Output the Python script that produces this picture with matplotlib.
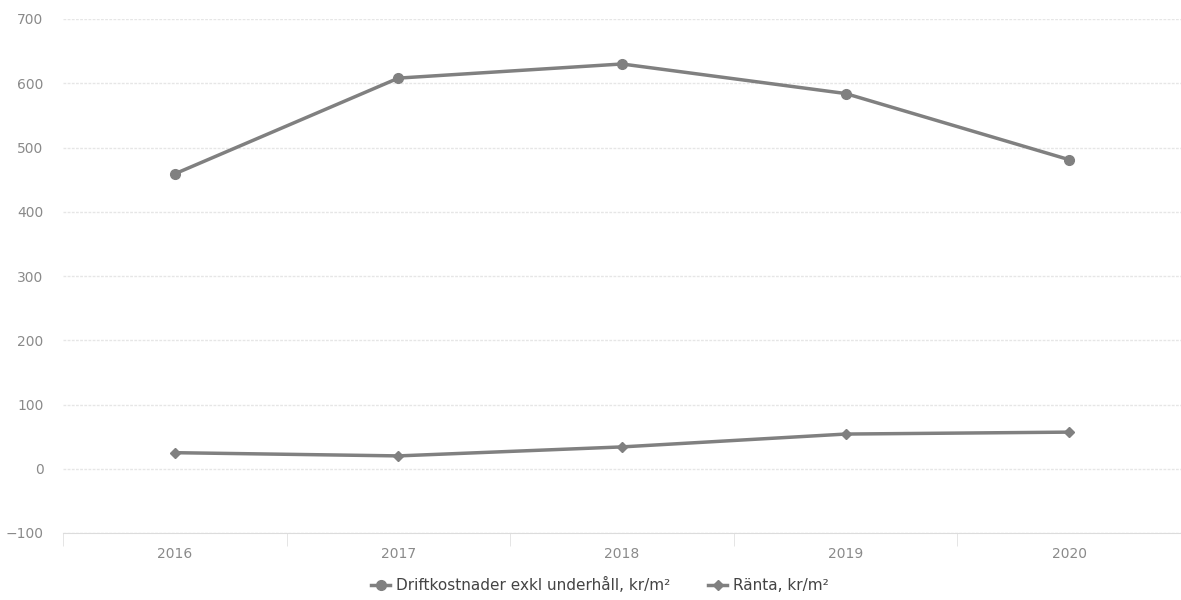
import matplotlib
matplotlib.use("Agg")
import matplotlib.pyplot as plt
from matplotlib.lines import Line2D

# Data
years = ["2016", "2017", "2018", "2019", "2020"]
drift = [459, 608, 630, 584, 481]
ranta = [25, 20, 34, 54, 57]
labels = ["Driftkostnader exkl underhåll, kr/m²", "Ränta, kr/m²"]

line_color = "#808080"
grid_color = "#e6e6e6"
text_color = "#8a8a8a"

fig = plt.figure(figsize=(11.81, 6), dpi=100)
ax = fig.add_axes([63 / 1181, 67 / 600, 1118 / 1181, 514 / 600])

x = list(range(len(years)))
ax.plot(x, drift, color=line_color, lw=2.5, marker="o", ms=7, zorder=3)
ax.plot(x, ranta, color=line_color, lw=2.5, marker="D", ms=5, zorder=3)

ax.set_ylim(-100, 700)
ax.set_yticks(range(-100, 701, 100))
ax.set_xlim(-0.5, 4.45)
ax.set_xticks(x)
ax.set_xticklabels(years)
ax.set_xticks([i + 0.5 for i in range(-1, 5)], minor=True)

for side in ["top", "right", "left"]:
    ax.spines[side].set_visible(False)
ax.spines["bottom"].set_color("#dcdcdc")
ax.spines["bottom"].set_linestyle((0, (2, 1)))

ax.grid(axis="y", color=grid_color, linestyle=(0, (2, 1)), lw=1)
ax.set_axisbelow(True)
ax.tick_params(axis="y", length=0, pad=14, labelsize=10, labelcolor=text_color)
ax.tick_params(axis="x", which="major", length=0, pad=10, labelsize=10, labelcolor=text_color)
ax.tick_params(axis="x", which="minor", length=9, color="#e0e0e0", direction="out")

handles = [
    Line2D([], [], color=line_color, lw=2.5, marker="o", ms=7),
    Line2D([], [], color=line_color, lw=2.5, marker="D", ms=5),
]
fig.legend(handles, labels, loc="center", bbox_to_anchor=(600 / 1181, 1 - 585 / 600),
           ncol=2, frameon=False, fontsize=11, handlelength=1.2, handletextpad=0.4,
           columnspacing=2.5, labelcolor="#444444")

fig.savefig("out.png", dpi=100)
